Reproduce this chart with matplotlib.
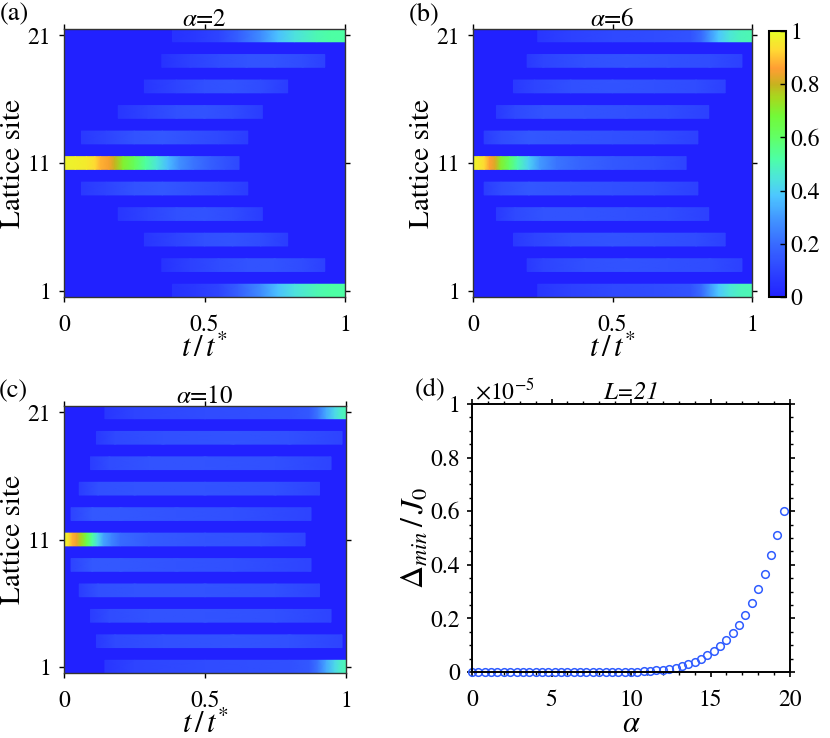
import numpy as np
import matplotlib
matplotlib.use("Agg")
import matplotlib.pyplot as plt
from matplotlib.colors import LinearSegmentedColormap, Normalize
from matplotlib.cm import ScalarMappable
from matplotlib.ticker import MultipleLocator

plt.rcParams['font.family'] = ['STIXGeneral', 'Liberation Serif', 'DejaVu Serif']
plt.rcParams['mathtext.fontset'] = 'stix'

# ---- data: occupation of odd sites vs t/t* (mirror symmetric: site s == site 22-s)
# alpha = 2
a11_t = [0, 0.04, 0.08, 0.11, 0.13, 0.16, 0.18, 0.21, 0.25, 0.29, 0.33, 0.37, 0.41, 0.46, 0.52, 0.57, 0.623]
a11_v = [0.98, 0.97, 0.96, 0.93, 0.88, 0.85, 0.8, 0.7, 0.62, 0.53, 0.45, 0.36, 0.28, 0.22, 0.17, 0.14, 0.11]
a9_t = [0.062, 0.15, 0.25, 0.35, 0.45, 0.55, 0.654]
a9_v = [0.07, 0.1, 0.14, 0.15, 0.13, 0.11, 0.08]
a7_t = [0.193, 0.3, 0.4, 0.5, 0.6, 0.706]
a7_v = [0.06, 0.1, 0.13, 0.14, 0.12, 0.08]
a5_t = [0.286, 0.4, 0.5, 0.6, 0.7, 0.796]
a5_v = [0.06, 0.1, 0.13, 0.14, 0.12, 0.08]
a3_t = [0.348, 0.45, 0.55, 0.65, 0.75, 0.85, 0.928]
a3_v = [0.05, 0.09, 0.12, 0.14, 0.14, 0.12, 0.09]
a1_t = [0.386, 0.47, 0.55, 0.62, 0.7, 0.76, 0.82, 0.9, 0.95, 1.0]
a1_v = [0.05, 0.07, 0.1, 0.17, 0.27, 0.37, 0.44, 0.5, 0.52, 0.52]

# alpha = 6
b11_t = [0, 0.02, 0.04, 0.06, 0.08, 0.1, 0.13, 0.16, 0.2, 0.24, 0.3, 0.38, 0.5, 0.65, 0.764]
b11_v = [0.98, 0.96, 0.93, 0.86, 0.82, 0.7, 0.6, 0.5, 0.4, 0.3, 0.22, 0.18, 0.15, 0.13, 0.1]
b9_t = [0.04, 0.1, 0.2, 0.35, 0.5, 0.65, 0.806]
b9_v = [0.08, 0.12, 0.15, 0.14, 0.13, 0.12, 0.09]
b7_t = [0.084, 0.15, 0.25, 0.4, 0.55, 0.7, 0.845]
b7_v = [0.07, 0.11, 0.14, 0.14, 0.13, 0.12, 0.09]
b5_t = [0.145, 0.22, 0.35, 0.5, 0.65, 0.8, 0.904]
b5_v = [0.07, 0.1, 0.13, 0.14, 0.13, 0.12, 0.09]
b3_t = [0.194, 0.25, 0.4, 0.55, 0.7, 0.85, 0.964]
b3_v = [0.07, 0.1, 0.13, 0.14, 0.13, 0.12, 0.09]
b1_t = [0.232, 0.35, 0.5, 0.65, 0.78, 0.82, 0.85, 0.88, 0.92, 0.96, 1.0]
b1_v = [0.06, 0.09, 0.11, 0.12, 0.14, 0.2, 0.3, 0.38, 0.45, 0.49, 0.5]

# alpha = 10
c11_t = [0, 0.015, 0.03, 0.045, 0.06, 0.08, 0.1, 0.12, 0.14, 0.17, 0.2, 0.3, 0.5, 0.7, 0.855]
c11_v = [0.98, 0.95, 0.88, 0.84, 0.75, 0.65, 0.53, 0.42, 0.32, 0.25, 0.2, 0.16, 0.14, 0.13, 0.1]
c9_t = [0.025, 0.1, 0.2, 0.4, 0.6, 0.876]
c9_v = [0.1, 0.15, 0.15, 0.14, 0.13, 0.1]
c7_t = [0.054, 0.12, 0.25, 0.5, 0.75, 0.906]
c7_v = [0.08, 0.13, 0.14, 0.14, 0.13, 0.1]
c5_t = [0.094, 0.16, 0.3, 0.5, 0.75, 0.947]
c5_v = [0.08, 0.12, 0.14, 0.14, 0.13, 0.1]
c3_t = [0.115, 0.18, 0.35, 0.6, 0.8, 0.986]
c3_v = [0.07, 0.11, 0.13, 0.14, 0.13, 0.1]
c1_t = [0.145, 0.25, 0.5, 0.8, 0.87, 0.9, 0.93, 0.96, 0.98, 1.0]
c1_v = [0.06, 0.1, 0.12, 0.13, 0.15, 0.22, 0.33, 0.42, 0.47, 0.5]

alphas_shown = [2, 6, 10]

# panel (d): minimal gap (units of 1e-5) vs alpha
alpha_d = [0.0, 0.4, 0.8, 1.2, 1.6, 2.0, 2.4, 2.8, 3.2, 3.6, 4.0, 4.4, 4.8, 5.2, 5.6,
           6.0, 6.4, 6.8, 7.2, 7.6, 8.0, 8.4, 8.8, 9.2, 9.6, 10.0, 10.4, 10.8, 11.2,
           11.6, 12.0, 12.4, 12.8, 13.2, 13.6, 14.0, 14.4, 14.8, 15.2, 15.6, 16.0,
           16.4, 16.8, 17.2, 17.6, 18.0, 18.4, 18.8, 19.2, 19.6]
gap_d = [0, 0, 0, 0, 0, 0, 0, 0, 0, 0, 0, 0, 0, 0, 0,
         0, 0, 0, 0, 0.0001, 0.0002, 0.0003, 0.0004, 0.0006, 0.0009, 0.0012, 0.0017, 0.002, 0.004,
         0.006, 0.009, 0.012, 0.016, 0.021, 0.029, 0.037, 0.05, 0.062, 0.078, 0.096, 0.118,
         0.146, 0.177, 0.214, 0.258, 0.309, 0.367, 0.436, 0.513, 0.601]

# custom jet-like colormap
cm_nodes = [0.0, 0.1, 0.2, 0.3, 0.38, 0.45, 0.52, 0.6, 0.68, 0.75, 0.8, 0.86, 0.93, 1.0]
cm_colors = [(0.13, 0.13, 1.0), (0.18, 0.27, 1.0), (0.22, 0.42, 1.0), (0.26, 0.6, 1.0),
             (0.3, 0.78, 1.0), (0.3, 0.9, 0.85), (0.3, 1.0, 0.65), (0.38, 1.0, 0.4),
             (0.45, 0.98, 0.22), (0.65, 0.85, 0.12), (0.78, 0.7, 0.12), (1.0, 0.62, 0.2),
             (1.0, 0.85, 0.2), (0.9, 1.0, 0.15)]
cmap = LinearSegmentedColormap.from_list('occ', list(zip(cm_nodes, cm_colors)))

W, H = 830, 738
fig = plt.figure(figsize=(W / 100, H / 100), dpi=100)


def px_axes(left, right, top, bottom):
    return fig.add_axes([left / W, 1 - bottom / H, (right - left) / W, (bottom - top) / H])


def draw_band(ax, site, t, v):
    t = np.asarray(t, float)
    v = np.asarray(v, float)
    X = np.vstack([t, t])
    Y = np.vstack([np.full_like(t, site - 0.5), np.full_like(t, site + 0.5)])
    C = np.vstack([v, v])
    ax.pcolormesh(X, Y, C, shading='gouraud', cmap=cmap, vmin=0, vmax=1)


def heat_panel(ax, rows, alpha, tag):
    ax.set_facecolor(cmap(0.0))
    for s, (t, v) in rows.items():
        draw_band(ax, s, t, v)
        if s != 11:
            draw_band(ax, 22 - s, t, v)
    ax.set_xlim(0, 1)
    ax.set_ylim(0.5, 21.5)
    ax.set_xticks([0, 0.5, 1])
    ax.set_xticklabels(['0', '0.5', '1'])
    ax.set_yticks([1, 11, 21])
    ax.tick_params(direction='out', length=3.5, width=1, labelsize=17,
                   top=True, right=True)
    ax.tick_params(axis='x', pad=9)
    ax.tick_params(axis='y', pad=6)
    for sp in ax.spines.values():
        sp.set_linewidth(1)
        sp.set_color('#333333')
    ax.set_ylabel('Lattice site', fontsize=21, labelpad=1)
    ax.set_xlabel(r'$t\,/\,t^{*}$', fontsize=22, labelpad=-1)
    ax.set_title(r'$\alpha$=%d' % alpha, fontsize=18, pad=2)
    ax.text(-0.23, 1.055, tag, transform=ax.transAxes, fontsize=19, va='center', ha='left')


ax_a = px_axes(64, 345, 29, 297)
heat_panel(ax_a, {11: (a11_t, a11_v), 9: (a9_t, a9_v), 7: (a7_t, a7_v),
                  5: (a5_t, a5_v), 3: (a3_t, a3_v), 1: (a1_t, a1_v)}, alphas_shown[0], '(a)')

ax_b = px_axes(473, 752, 29, 297)
heat_panel(ax_b, {11: (b11_t, b11_v), 9: (b9_t, b9_v), 7: (b7_t, b7_v),
                  5: (b5_t, b5_v), 3: (b3_t, b3_v), 1: (b1_t, b1_v)}, alphas_shown[1], '(b)')

ax_c = px_axes(64, 346, 406, 673)
heat_panel(ax_c, {11: (c11_t, c11_v), 9: (c9_t, c9_v), 7: (c7_t, c7_v),
                  5: (c5_t, c5_v), 3: (c3_t, c3_v), 1: (c1_t, c1_v)}, alphas_shown[2], '(c)')

# colorbar
cax = px_axes(769, 786, 31, 297)
cb = fig.colorbar(ScalarMappable(norm=Normalize(0, 1), cmap=cmap), cax=cax)
cb.set_ticks([0, 0.2, 0.4, 0.6, 0.8, 1])
cb.set_ticklabels(['0', '0.2', '0.4', '0.6', '0.8', '1'])
cb.ax.tick_params(direction='in', length=4, width=1, labelsize=17, pad=3)
cb.outline.set_linewidth(1.5)

# panel (d)
ax_d = px_axes(472, 790, 404, 672)
ax_d.plot(alpha_d, gap_d, 'o', ms=5.5, mfc='none', mec='#2f5cff', mew=1.1, clip_on=False)
ax_d.set_xlim(0, 20)
ax_d.set_ylim(0, 1)
ax_d.set_xticks([0, 5, 10, 15, 20])
ax_d.set_yticks([0, 0.2, 0.4, 0.6, 0.8, 1])
ax_d.set_yticklabels(['0', '0.2', '0.4', '0.6', '0.8', '1'])
ax_d.xaxis.set_minor_locator(MultipleLocator(1))
ax_d.yaxis.set_minor_locator(MultipleLocator(0.05))
ax_d.tick_params(which='both', direction='out', top=True, right=True, labelsize=17)
ax_d.tick_params(which='major', length=3.5, width=1.2)
ax_d.tick_params(which='minor', length=2, width=1)
ax_d.tick_params(axis='x', which='both', pad=9)
ax_d.tick_params(axis='y', which='both', pad=5)
for sp in ax_d.spines.values():
    sp.set_linewidth(1.4)
ax_d.set_xlabel(r'$\alpha$', fontsize=22, labelpad=0)
ax_d.set_ylabel(r'$\Delta_{min}\,/\,J_0$', fontsize=23, labelpad=0)
ax_d.set_title('L=21', fontsize=18, style='italic', pad=2)
ax_d.text(0.01, 1.0, r'$\times10^{-5}$', transform=ax_d.transAxes, fontsize=17,
          va='bottom', ha='left')
ax_d.text(-0.18, 1.055, '(d)', transform=ax_d.transAxes, fontsize=19, va='center', ha='left')

fig.savefig('out.png', dpi=100)
